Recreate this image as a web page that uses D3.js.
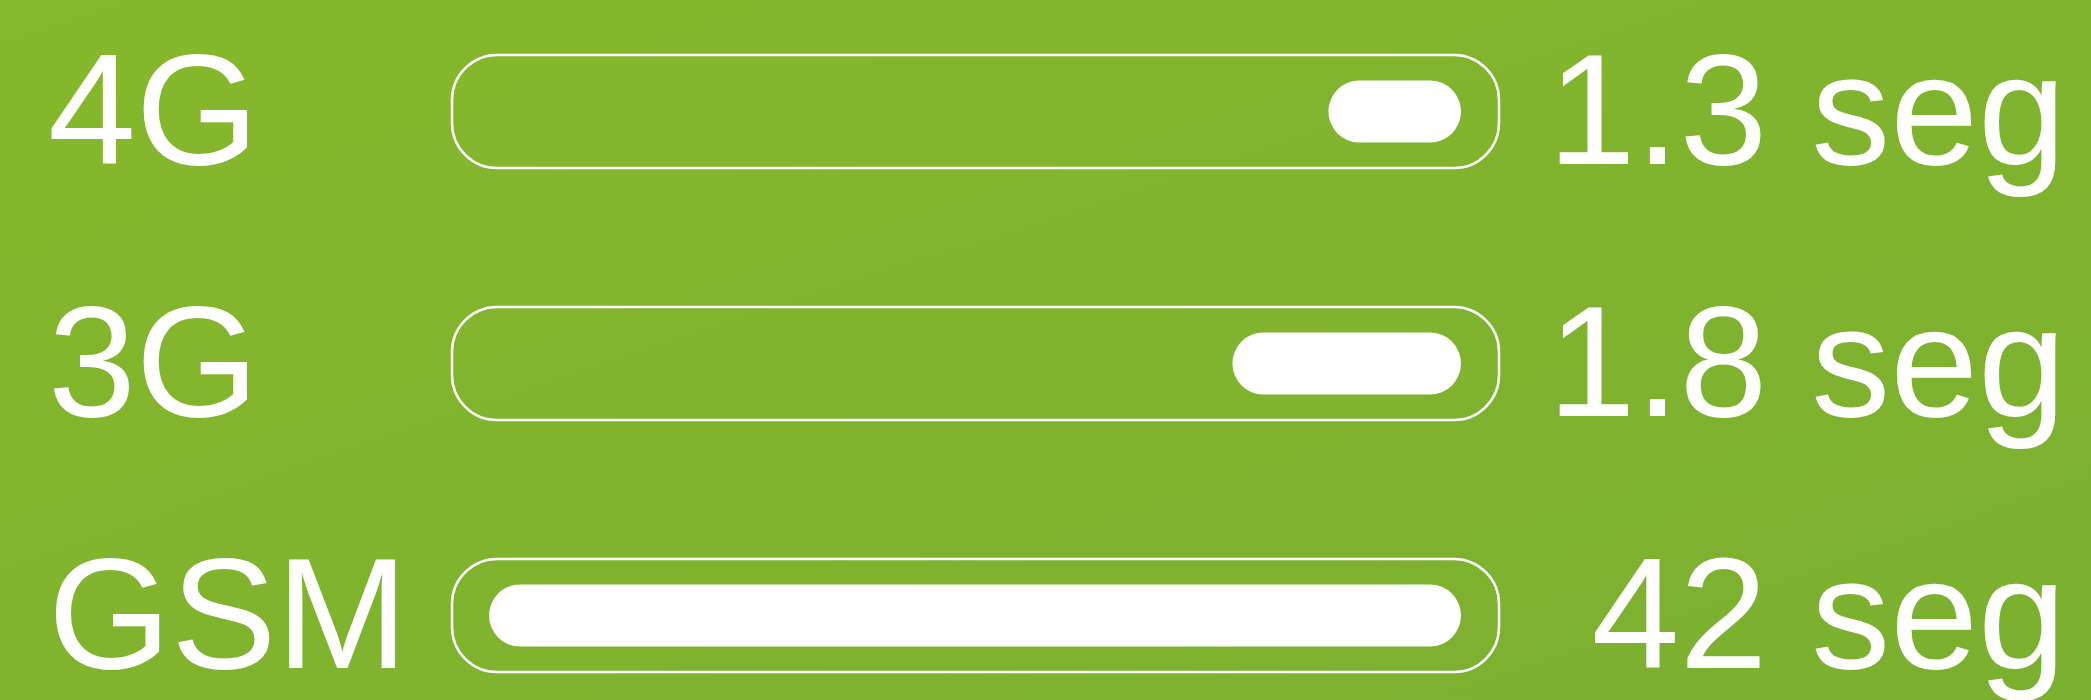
<!DOCTYPE html>
<html>
<head>
<meta charset="utf-8">
<script src="https://cdn.jsdelivr.net/npm/d3@7"></script>
<style>
    html, body { margin: 0; padding: 0; overflow: hidden; }
    svg { display: block; }
</style>
</head>
<body>
<div id="chart"></div>
<script>
// network types and load times (seconds)
const networks = ['4G', '3G', 'GSM'];
const loadTimes = [1.3, 1.8, 42];
const valueLabels = ['1.3', '1.8', '42'];
const unitLabel = 'seg';

const width = 2091, height = 700;

const svg = d3.select('#chart')
    .append('svg')
    .attr('width', width)
    .attr('height', height);

// background gradient
let defs = svg.append('defs');
let grad = defs.append('linearGradient')
    .attr('id', 'bg')
    .attr('x1', '0%').attr('y1', '0%')
    .attr('x2', '100%').attr('y2', '100%');
grad.append('stop').attr('offset', '0%').attr('stop-color', '#86b82b');
grad.append('stop').attr('offset', '100%').attr('stop-color', '#7bb030');

svg.append('rect')
    .attr('width', width)
    .attr('height', height)
    .attr('fill', 'url(#bg)');

// rows
let y = d3.scalePoint()
    .domain(networks)
    .range([111.5, 615.5]);

// bars grow leftwards from the right end of the track,
// broken scale: short times get more room than long ones
let barRight = 1461;
let x = d3.scaleLinear()
    .domain([1, 2, 50])
    .range([barRight - 75, barRight - 267, barRight - 1113]);

let track = { left: 452, right: 1499, h: 113, r: 45 };
let barH = 62;
let fontSize = 158;

let rows = svg.append('g').selectAll('.row')
    .data(networks)
    .enter()
    .append('g')
    .attr('class', 'row');

rows.append('rect')
    .attr('x', track.left)
    .attr('y', (d) => y(d) - track.h / 2)
    .attr('width', track.right - track.left)
    .attr('height', track.h)
    .attr('rx', track.r)
    .attr('ry', track.r)
    .attr('fill', 'none')
    .attr('stroke', '#ffffff')
    .attr('stroke-width', 2.5);

rows.append('rect')
    .attr('x', (d, i) => x(loadTimes[i]))
    .attr('y', (d) => y(d) - barH / 2)
    .attr('width', (d, i) => barRight - x(loadTimes[i]))
    .attr('height', barH)
    .attr('rx', barH / 2)
    .attr('ry', barH / 2)
    .attr('fill', '#ffffff');

rows.append('text')
    .attr('x', 48)
    .attr('y', (d) => y(d) + 52)
    .attr('font-family', '"Liberation Sans", Arial, Helvetica, sans-serif')
    .attr('font-size', fontSize)
    .attr('fill', '#ffffff')
    .text((d) => d);

rows.append('text')
    .attr('x', 2066)
    .attr('y', (d) => y(d) + 52)
    .attr('text-anchor', 'end')
    .attr('font-family', '"Liberation Sans", Arial, Helvetica, sans-serif')
    .attr('font-size', fontSize)
    .attr('fill', '#ffffff')
    .text((d, i) => valueLabels[i] + ' ' + unitLabel);
</script>
</body>
</html>
